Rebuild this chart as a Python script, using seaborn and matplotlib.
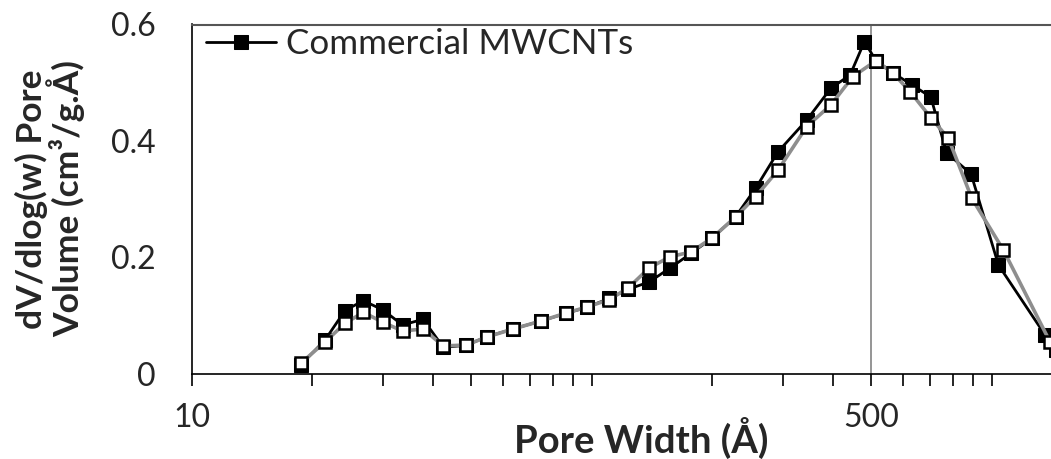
import numpy as np
import pandas as pd
import matplotlib
matplotlib.use("Agg")
import matplotlib.pyplot as plt
import seaborn as sns
from matplotlib.ticker import FixedLocator, NullFormatter

# ---- data ----
width_a = [18.73, 21.54, 24.17, 26.85, 30.08, 33.65, 37.87, 42.56, 48.51, 54.72,
           63.56, 74.69, 86.27, 97.33, 110.7, 123.3, 139.1, 157.0, 177.1, 199.8,
           228.8, 256.8, 292.3, 344.7, 395.9, 442.4, 480.3, 513.6, 566.6, 632.3,
           703.8, 770.9, 887.6, 1039, 1359, 1448]
vol_a = [0.0146, 0.0576, 0.1083, 0.1252, 0.1092, 0.0834, 0.0932, 0.0450, 0.0485, 0.0633,
         0.0765, 0.0903, 0.1035, 0.1138, 0.1293, 0.1448, 0.1573, 0.1814, 0.2066, 0.2324,
         0.2696, 0.3184, 0.3813, 0.4358, 0.4903, 0.5132, 0.5704, 0.5378, 0.5166, 0.4960,
         0.4754, 0.3796, 0.3430, 0.1865, 0.0662, 0.0404]

width_b = [18.73, 21.54, 24.17, 26.85, 30.08, 33.65, 37.87, 42.56, 48.51, 54.72,
           63.56, 74.69, 86.27, 97.33, 110.7, 123.3, 139.1, 157.0, 177.1, 199.8,
           228.8, 256.8, 292.3, 344.7, 395.9, 449.3, 513.6, 566.6, 625.1, 703.8,
           778.9, 891.3, 1069, 1399]
vol_b = [0.0175, 0.0542, 0.0863, 0.1052, 0.0880, 0.0731, 0.0765, 0.0473, 0.0490, 0.0628,
         0.0765, 0.0903, 0.1040, 0.1143, 0.1272, 0.1470, 0.1814, 0.2008, 0.2089, 0.2330,
         0.2690, 0.3040, 0.3498, 0.4246, 0.4616, 0.5103, 0.5378, 0.5161, 0.4845, 0.4398,
         0.4044, 0.3012, 0.2123, 0.0540]

series_a = "Commercial MWCNTs"
xtick_major = [10, 500]
xtick_major_labels = ["10", "500"]
xtick_minor = [20, 30, 40, 50, 60, 70, 80, 90, 100, 200, 300, 400,
               600, 700, 800, 900, 1000]
ytick_vals = [0, 0.2, 0.4, 0.6]
ytick_labels = ["0", "0.2", "0.4", "0.6"]
xlabel = "Pore Width (Å)"
ylabel = "dV/dlog(w) Pore\nVolume (cm³/g.Å)"

sns.set_style("white")
plt.rcParams['font.family'] = ['Lato', 'DejaVu Sans']

fig = plt.figure(figsize=(10.51, 4.59), dpi=100)
W, H = 1051, 459
x0, x1, ytop, ybot = 191.7, 1051, 24.5, 373.5
ax = fig.add_axes([x0 / W, 1 - ybot / H, (x1 - x0) / W, (ybot - ytop) / H])
ax.set_xscale('log')

ax.axvline(500, color='#8c8c8c', lw=1.3, zorder=1)

df_a = pd.DataFrame({"w": width_a, "v": vol_a})
df_b = pd.DataFrame({"w": width_b, "v": vol_b})
sns.lineplot(data=df_a, x="w", y="v", ax=ax, color='black', lw=2.0, marker='s',
             markersize=10.5, markerfacecolor='black', markeredgecolor='black',
             label=series_a, sort=False, estimator=None, zorder=3)
sns.lineplot(data=df_b, x="w", y="v", ax=ax, color='#8e8e8e', lw=2.6, marker='s',
             markersize=9, markerfacecolor='white', markeredgecolor='black',
             markeredgewidth=1.8, sort=False, estimator=None, zorder=4)

ax.set_xlim(10, 1406)
ax.set_ylim(0, 0.6)

ax.set_xticks(xtick_major)
ax.set_xticklabels(xtick_major_labels)
ax.xaxis.set_minor_locator(FixedLocator(xtick_minor))
ax.xaxis.set_minor_formatter(NullFormatter())
ax.tick_params(axis='x', which='both', direction='out', length=8.5, width=1.2,
               color='black', bottom=True, labelsize=23, pad=13)
ax.set_yticks(ytick_vals)
ax.set_yticklabels(ytick_labels)
ax.tick_params(axis='y', which='both', length=0, labelsize=23, pad=26)

for s in ['left', 'bottom']:
    ax.spines[s].set_color('black')
    ax.spines[s].set_linewidth(1.2)
ax.spines['top'].set_color('#555555')
ax.spines['top'].set_linewidth(1.5)
ax.spines['right'].set_visible(False)

ax.set_xlabel(xlabel, fontsize=27.5, fontweight='bold', va='center')
ax.xaxis.set_label_coords((641 - x0) / (x1 - x0), (ybot - 438) / (ybot - ytop))
ax.set_ylabel(ylabel, fontsize=25.5, fontweight='bold', va='center', ha='center',
              multialignment='center', linespacing=0.95)
ax.yaxis.set_label_coords((50 - x0) / (x1 - x0), 0.5)

leg = ax.legend(loc='upper left', frameon=False, fontsize=25.2, handlelength=2.0,
                handletextpad=0.3, borderaxespad=0.0, bbox_to_anchor=(0.0, 1.03))

fig.savefig("out.png", dpi=100)
